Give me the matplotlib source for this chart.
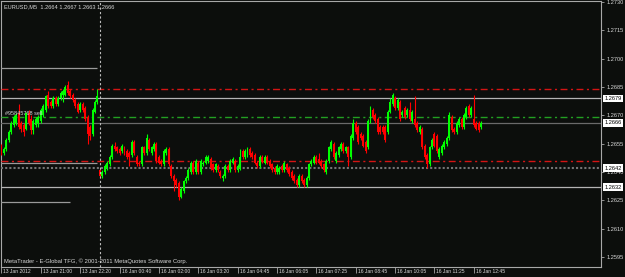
import matplotlib
matplotlib.use("Agg")
import matplotlib.pyplot as plt
import matplotlib.transforms as mtransforms
import numpy as np

# EURUSD M5 bars, prices in pips (1.2664 -> 12664)
opens = [
    12653, 12650, 12652, 12657, 12661, 12665, 12666, 12671, 12666, 12665,
    12663, 12671, 12668, 12662, 12665, 12666, 12667, 12670, 12673, 12681,
    12677, 12675, 12679, 12676, 12679, 12681, 12681, 12686, 12683, 12681,
    12678, 12676, 12673, 12676, 12674, 12669, 12664, 12660, 12672, 12677,
    12641, 12638, 12640, 12642, 12644, 12648, 12654, 12653, 12652, 12651,
    12653, 12651, 12650, 12649, 12656, 12648, 12645, 12644, 12653, 12650,
    12657, 12650, 12652, 12655, 12648, 12646, 12644, 12650, 12652, 12643,
    12638, 12636, 12634, 12627, 12630, 12635, 12637, 12640, 12645, 12640,
    12645, 12640, 12644, 12645, 12646, 12647, 12644, 12641, 12643, 12640,
    12637, 12638, 12643, 12641, 12645, 12646, 12641, 12642, 12651, 12648,
    12649, 12652, 12650, 12649, 12645, 12643, 12648, 12645, 12648, 12646,
    12644, 12642, 12640, 12640, 12643, 12641, 12644, 12642, 12640, 12638,
    12636, 12633, 12638, 12636, 12633, 12637, 12644, 12645, 12648, 12647,
    12646, 12644, 12640, 12646, 12652, 12655, 12646, 12649, 12652, 12655,
    12651, 12653, 12648, 12658, 12666, 12664, 12660, 12659, 12656, 12653,
    12667, 12673, 12670, 12668, 12664, 12664, 12664, 12661, 12672, 12676,
    12679, 12674, 12677, 12670, 12674, 12670, 12673, 12667, 12668, 12666,
    12661, 12663, 12654, 12649, 12644, 12653, 12660, 12659, 12648, 12650,
    12653, 12655, 12658, 12669, 12663, 12661, 12665, 12668, 12664, 12669,
    12675, 12670, 12668, 12666, 12666, 12664,
]
highs = [
    12655, 12653, 12658, 12662, 12667, 12670, 12671, 12676, 12667, 12666,
    12672, 12673, 12670, 12668, 12669, 12670, 12674, 12676, 12681, 12683,
    12678, 12680, 12680, 12680, 12683, 12684, 12686, 12688, 12684, 12682,
    12679, 12677, 12677, 12677, 12675, 12670, 12665, 12674, 12678, 12684,
    12642, 12641, 12644, 12646, 12649, 12655, 12656, 12654, 12653, 12655,
    12654, 12652, 12651, 12657, 12657, 12649, 12646, 12654, 12654, 12660,
    12658, 12654, 12656, 12656, 12649, 12647, 12652, 12653, 12653, 12644,
    12639, 12637, 12635, 12632, 12636, 12638, 12642, 12646, 12646, 12647,
    12646, 12647, 12646, 12649, 12649, 12648, 12645, 12645, 12644, 12641,
    12639, 12644, 12644, 12647, 12648, 12647, 12644, 12652, 12652, 12652,
    12653, 12653, 12651, 12650, 12646, 12649, 12649, 12649, 12649, 12647,
    12645, 12643, 12644, 12643, 12644, 12646, 12645, 12643, 12641, 12639,
    12637, 12639, 12639, 12637, 12638, 12645, 12647, 12649, 12649, 12650,
    12647, 12645, 12647, 12654, 12657, 12656, 12651, 12654, 12656, 12656,
    12654, 12654, 12660, 12668, 12667, 12665, 12661, 12660, 12657, 12668,
    12675, 12674, 12671, 12669, 12665, 12665, 12665, 12673, 12679, 12682,
    12680, 12679, 12678, 12673, 12675, 12674, 12677, 12673, 12680, 12667,
    12665, 12664, 12655, 12650, 12654, 12658, 12661, 12660, 12653, 12655,
    12657, 12659, 12672, 12670, 12664, 12667, 12669, 12669, 12671, 12675,
    12676, 12675, 12681, 12667, 12667, 12667,
]
lows = [
    12649, 12649, 12651, 12656, 12660, 12664, 12665, 12663, 12661, 12659,
    12662, 12665, 12660, 12660, 12664, 12664, 12666, 12669, 12672, 12674,
    12674, 12674, 12675, 12675, 12678, 12677, 12680, 12681, 12679, 12677,
    12674, 12671, 12672, 12672, 12667, 12655, 12657, 12659, 12671, 12676,
    12637, 12637, 12639, 12641, 12643, 12647, 12651, 12650, 12649, 12650,
    12649, 12647, 12643, 12648, 12649, 12643, 12643, 12643, 12649, 12649,
    12651, 12649, 12651, 12645, 12644, 12643, 12643, 12649, 12643, 12637,
    12630, 12632, 12625, 12626, 12629, 12634, 12636, 12639, 12639, 12639,
    12639, 12639, 12643, 12644, 12645, 12641, 12640, 12640, 12640, 12637,
    12635, 12637, 12640, 12640, 12644, 12640, 12640, 12641, 12647, 12647,
    12648, 12648, 12647, 12644, 12642, 12642, 12645, 12644, 12644, 12642,
    12640, 12639, 12639, 12639, 12640, 12640, 12640, 12638, 12636, 12634,
    12632, 12632, 12634, 12632, 12632, 12636, 12643, 12644, 12644, 12644,
    12642, 12640, 12639, 12645, 12651, 12647, 12645, 12648, 12651, 12650,
    12650, 12643, 12647, 12657, 12660, 12655, 12657, 12653, 12650, 12652,
    12666, 12668, 12666, 12660, 12660, 12660, 12656, 12660, 12671, 12675,
    12673, 12673, 12667, 12669, 12668, 12669, 12667, 12666, 12664, 12661,
    12660, 12652, 12647, 12642, 12643, 12652, 12653, 12650, 12647, 12649,
    12652, 12654, 12657, 12661, 12660, 12660, 12664, 12663, 12663, 12668,
    12669, 12669, 12664, 12662, 12661, 12663,
]
closes = [
    12650, 12652, 12657, 12661, 12666, 12669, 12670, 12664, 12663, 12661,
    12671, 12666, 12662, 12667, 12668, 12669, 12673, 12675, 12680, 12675,
    12675, 12679, 12676, 12679, 12682, 12683, 12685, 12682, 12680, 12678,
    12675, 12672, 12676, 12673, 12668, 12660, 12659, 12673, 12677, 12680,
    12638, 12640, 12643, 12645, 12648, 12654, 12652, 12651, 12650, 12654,
    12650, 12648, 12648, 12656, 12650, 12644, 12644, 12653, 12650, 12658,
    12652, 12653, 12655, 12646, 12645, 12644, 12651, 12652, 12644, 12638,
    12635, 12633, 12627, 12631, 12635, 12637, 12641, 12645, 12640, 12646,
    12640, 12646, 12645, 12648, 12648, 12642, 12641, 12644, 12641, 12638,
    12638, 12643, 12641, 12646, 12647, 12641, 12643, 12648, 12648, 12651,
    12652, 12649, 12648, 12645, 12643, 12648, 12646, 12648, 12645, 12643,
    12641, 12640, 12643, 12642, 12641, 12645, 12641, 12639, 12637, 12635,
    12633, 12638, 12635, 12633, 12637, 12644, 12646, 12648, 12645, 12645,
    12643, 12641, 12646, 12653, 12656, 12648, 12650, 12653, 12655, 12651,
    12653, 12648, 12659, 12666, 12661, 12656, 12658, 12654, 12651, 12667,
    12674, 12669, 12667, 12661, 12661, 12661, 12657, 12672, 12677, 12681,
    12674, 12678, 12668, 12672, 12669, 12673, 12668, 12672, 12665, 12662,
    12664, 12653, 12648, 12644, 12653, 12657, 12654, 12651, 12652, 12654,
    12656, 12658, 12670, 12662, 12661, 12666, 12668, 12664, 12670, 12674,
    12670, 12674, 12665, 12663, 12662, 12666,
]

# horizontal objects on the chart (pips)
red_levels = [12684, 12646]
green_level = 12669
full_gray = [12679, 12632]
dim_gray = 12666
dotted_gray = 12642
short_lines = [(12695, 39), (12645, 39), (12624, 28)]  # level, last bar
boxed = ["1.2679", "1.2666", "1.2642", "1.2632"]

x_ticks = list(range(0, 193, 16))
x_labels = ["13 Jan 2012", "13 Jan 21:00", "13 Jan 22:20", "16 Jan 00:40",
            "16 Jan 02:00", "16 Jan 03:20", "16 Jan 04:45", "16 Jan 06:05",
            "16 Jan 07:25", "16 Jan 08:45", "16 Jan 10:05", "16 Jan 11:25",
            "16 Jan 12:45"]
y_ticks = [12595, 12610, 12625, 12640, 12655, 12670, 12685, 12700, 12715, 12730]
separator = 40

BG = "#0c0e0c"
FG = "#d8d8d8"
plt.rcParams["font.family"] = ["Liberation Sans", "DejaVu Sans"]

o = np.array(opens) / 1e4
h = np.array(highs) / 1e4
l = np.array(lows) / 1e4
c = np.array(closes) / 1e4
x = np.arange(len(o))

fig = plt.figure(figsize=(6.25, 2.77), dpi=100, facecolor=BG)
ax = fig.add_axes([1 / 625, 10 / 277, 600 / 625, 266 / 277], facecolor=BG)

up = c >= o
cols = np.where(up, "#00ff00", "#ff0000")
ax.vlines(x, l, h, colors=cols, lw=0.8, zorder=4)
ax.bar(x, np.abs(c - o), bottom=np.minimum(o, c), width=0.8, color=cols,
       linewidth=0, zorder=5)

dashdot = (0, (5, 2.5, 1.5, 2.5))
for lv in red_levels:
    ax.axhline(lv / 1e4, color="#d41414", lw=1.0, ls=dashdot, zorder=3)
ax.axhline(green_level / 1e4, color="#22a022", lw=1.0, ls=dashdot, zorder=3)
for lv in full_gray:
    ax.axhline(lv / 1e4, color="#b4b4b4", lw=0.9, zorder=3)
ax.axhline(dim_gray / 1e4, color="#6a6a6a", lw=0.9, zorder=3)
ax.axhline(dotted_gray / 1e4, color="#747474", lw=1.5, ls=(0, (1, 1)), zorder=3)
for lv, end in short_lines:
    ax.hlines(lv / 1e4, -0.5, end, color="#9a9a9a", lw=0.9, zorder=3)
ax.axvline(separator, color="#bdbdbd", lw=0.8, ls=(0, (2, 2)), zorder=6)

ax.set_xlim(-0.2, 243.7)
ax.set_ylim(1.25897, 1.27305)

for s in ax.spines.values():
    s.set_color("#a8a8a8")
    s.set_linewidth(0.8)

ax.yaxis.tick_right()
ax.set_yticks(np.array(y_ticks) / 1e4)
ax.set_yticklabels([f"{v / 1e4:.4f}" for v in y_ticks])
ax.tick_params(axis="y", length=2.5, width=0.6, pad=1.5, colors="#a8a8a8",
               labelcolor=FG, labelsize=4.1)
ax.set_xticks(x_ticks)
ax.set_xticklabels(x_labels, ha="left")
ax.tick_params(axis="x", length=4.5, width=0.6, pad=-2.8, colors="#a8a8a8",
               labelcolor=FG, labelsize=3.6)
for lab in ax.get_xticklabels():
    lab.set_transform(lab.get_transform() + mtransforms.ScaledTranslation(2 / 100, 0, fig.dpi_scale_trans))

trans = mtransforms.blended_transform_factory(ax.transAxes, ax.transData)
for s in boxed:
    ax.text(1.006, float(s), s, transform=trans, fontsize=4.1, color="black",
            va="center", ha="left", zorder=10, clip_on=False,
            bbox=dict(boxstyle="square,pad=0.22", fc="white", ec="none"))

fig.text(4 / 625, 1 - 7 / 277, "EURUSD,M5  1.2664 1.2667 1.2663 1.2666",
         color=FG, fontsize=4.1, va="center", ha="left")
fig.text(4 / 625, 1 - 261 / 277,
         "MetaTrader - E-Global TFG, \u00a9 2001-2011 MetaQuotes Software Corp.",
         color=FG, fontsize=4.2, va="center", ha="left")
ax.text(1.6, 12671 / 1e4, "#95845768 sell", color=FG, fontsize=4.0,
        va="center", ha="left", zorder=7)

fig.savefig("out.png", dpi=100, facecolor=BG)
